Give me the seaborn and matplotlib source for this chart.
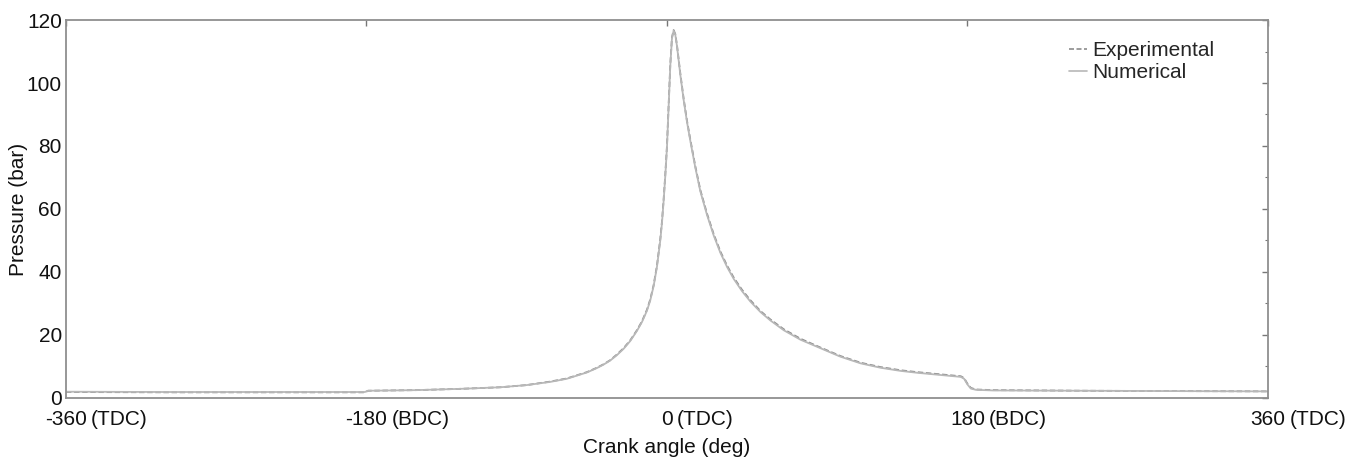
import matplotlib
matplotlib.use("Agg")
import matplotlib.pyplot as plt
import matplotlib.transforms as mtransforms
import seaborn as sns
import pandas as pd
from matplotlib.ticker import MultipleLocator

# ---- data ----
angle_exp = [-360, -300, -240, -181, -179, -150, -124, -100, -84, -70, -60, -54, -48, -42,
             -38, -34, -30, -26, -22, -18, -15, -12, -10, -8, -6, -4, -3, -2, -1, 0, 1, 2,
             3, 4, 5, 6, 7, 8, 10, 12, 14, 17, 20, 24, 28, 32, 36, 40, 45, 50, 56, 62, 70,
             80, 92, 104, 116, 128, 140, 150, 160, 170, 176, 178, 180, 182, 185, 195, 250,
             300, 360]
pres_exp = [1.9, 1.8, 1.8, 1.8, 2.3, 2.5, 2.9, 3.4, 4.1, 5.2, 6.2, 7.2, 8.2, 9.6,
            10.7, 12.0, 13.8, 15.8, 18.3, 21.5, 24.3, 28.0, 31.3, 35.8, 42.0, 50.5, 56.0,
            63.0, 71.0, 80.0, 93.0, 106.0, 114.5, 116.8, 115.5, 112.0, 107.5, 103.0, 95.0,
            88.0, 82.0, 73.5, 66.0, 58.5, 52.0, 46.5, 42.0, 38.2, 34.3, 31.0, 27.6, 24.9,
            21.8, 18.8, 16.0, 13.3, 11.2, 9.8, 8.8, 8.2, 7.7, 7.2, 6.9, 6.3, 4.5, 3.2, 2.7,
            2.5, 2.3, 2.2, 2.1]

angle_num = [-360, -300, -240, -181, -179, -150, -124, -100, -84, -70, -60, -54, -48, -42,
             -38, -34, -30, -26, -22, -18, -15, -12, -10, -8, -6, -4, -3, -2, -1, 0, 1, 2,
             3, 4, 5, 6, 7, 8, 10, 12, 14, 17, 20, 24, 28, 32, 36, 40, 45, 50, 56, 62, 70,
             80, 92, 104, 116, 128, 140, 150, 160, 170, 176, 178, 180, 182, 185, 195, 250,
             300, 360]
pres_num = [2.0, 1.9, 1.9, 1.9, 2.3, 2.5, 2.9, 3.4, 4.1, 5.1, 6.1, 7.1, 8.1, 9.5,
            10.6, 11.9, 13.6, 15.6, 18.1, 21.3, 24.1, 27.7, 31.0, 35.5, 41.6, 50.0, 55.5,
            62.5, 70.5, 79.5, 92.5, 105.5, 114.2, 116.6, 115.3, 111.7, 107.2, 102.6, 94.6,
            87.6, 81.6, 73.1, 65.6, 58.1, 51.6, 46.1, 41.6, 37.8, 33.9, 30.6, 27.3, 24.6,
            21.5, 18.5, 15.8, 13.1, 11.0, 9.6, 8.6, 8.0, 7.5, 7.0, 6.7, 6.1, 4.3, 3.0, 2.6,
            2.4, 2.3, 2.2, 2.1]

xticks = [-360, -180, 0, 180, 360]
xtick_numbers = ["-360", "-180", "0", "180", "360"]
xtick_suffixes = ["(TDC)", "(BDC)", "(TDC)", "(BDC)", "(TDC)"]
yticks = [0, 20, 40, 60, 80, 100, 120]

df = pd.concat([
    pd.DataFrame({"angle": angle_exp, "pressure": pres_exp, "series": "Experimental"}),
    pd.DataFrame({"angle": angle_num, "pressure": pres_num, "series": "Numerical"}),
])

sns.set_theme(style="white")
plt.rcParams["font.family"] = ["Liberation Sans", "DejaVu Sans"]

FS = 15
fig = plt.figure(figsize=(13.57, 4.63), dpi=100)
ax = fig.add_axes([0.0486, 0.1404, 0.8858, 0.8164])

sns.lineplot(data=df, x="angle", y="pressure", hue="series", style="series",
             palette={"Experimental": "#8c8c8c", "Numerical": "#b8b8b8"},
             dashes={"Experimental": (3, 1.5), "Numerical": ""},
             linewidth=1.3, sort=False, estimator=None, ax=ax)

ax.set_xlim(-360, 360)
ax.set_ylim(0, 120)
ax.set_xticks(xticks)
ax.set_xticklabels(xtick_numbers)
ax.set_yticks(yticks)
ax.yaxis.set_minor_locator(MultipleLocator(10))
ax.tick_params(axis="both", which="both", direction="in", top=True, right=True,
               labelsize=FS, colors="#777777", labelcolor="#111111")
ax.tick_params(which="major", length=4, width=1)
ax.tick_params(which="minor", length=2.5, width=0.8)
ax.tick_params(axis="x", pad=9)
ax.tick_params(axis="y", pad=3)
for s in ax.spines.values():
    s.set_color("#8f8f8f")
    s.set_linewidth(1.3)

ax.set_xlabel("Crank angle (deg)", fontsize=FS, color="#111111", labelpad=6)
ax.set_ylabel("Pressure (bar)", fontsize=FS, color="#111111", labelpad=-1)

leg = ax.legend(loc="upper right", bbox_to_anchor=(0.9655, 0.977), frameon=False,
                fontsize=FS, handlelength=0.85, handletextpad=0.25, labelspacing=0.15,
                borderaxespad=0.2)
for h in leg.get_lines():
    h.set_linewidth(1.2)

# suffixes "(TDC)/(BDC)" follow the number, which stays centred on the tick
fig.canvas.draw()
renderer = fig.canvas.get_renderer()
ident = mtransforms.IdentityTransform()
for lab, suf in zip(ax.get_xticklabels(), xtick_suffixes):
    bb = lab.get_window_extent(renderer)
    fig.text(bb.x1 + 4, bb.y0, suf, transform=ident, ha="left", va="bottom",
             fontsize=FS, color="#111111")

fig.savefig("out.png", dpi=100)
